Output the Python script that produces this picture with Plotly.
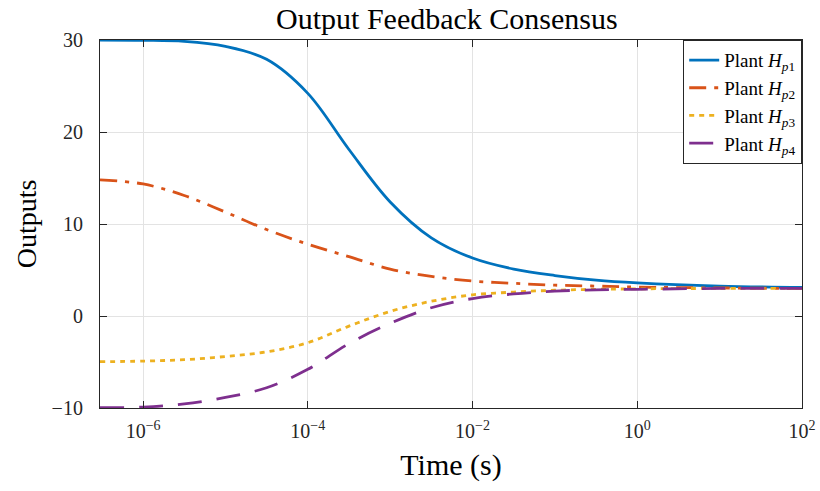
import plotly.graph_objects as go

# Sample times (s) on a log grid
time_s = [3e-7, 1e-6, 3.16e-6, 1e-5, 3.16e-5, 1e-4, 3.16e-4, 1e-3, 3.16e-3,
          1e-2, 3.16e-2, 1e-1, 3.16e-1, 1e0, 1e1, 1e2]

# Plant outputs
y_hp1 = [30.0, 29.97, 29.85, 29.3, 27.9, 24.2, 18.1, 12.4, 8.5, 6.3, 5.1, 4.4, 3.9, 3.6, 3.25, 3.1]
y_hp2 = [14.8, 14.35, 13.1, 11.3, 9.4, 7.8, 6.45, 5.1, 4.3, 3.8, 3.55, 3.35, 3.25, 3.15, 3.05, 3.0]
y_hp3 = [-4.97, -4.9, -4.75, -4.4, -3.9, -2.9, -1.1, 0.5, 1.6, 2.3, 2.6, 2.8, 2.9, 2.95, 3.0, 3.0]
y_hp4 = [-9.96, -9.9, -9.55, -8.85, -7.8, -5.8, -3.0, -0.8, 0.9, 1.9, 2.4, 2.7, 2.85, 2.9, 3.0, 3.0]

series_names = ["Plant <i>H</i><sub><i>p</i>1</sub>", "Plant <i>H</i><sub><i>p</i>2</sub>",
                "Plant <i>H</i><sub><i>p</i>3</sub>", "Plant <i>H</i><sub><i>p</i>4</sub>"]
colors = ["#0072BD", "#D95319", "#EDB120", "#7E2F8E"]
dashes = ["solid", "17px,8px,4px,8px", "5px,5px", "24px,15px"]

x_tickvals = [1e-6, 1e-4, 1e-2, 1e0, 1e2]
x_ticktext = ["10<sup>−6</sup>", "10<sup>−4</sup>", "10<sup>−2</sup>", "10<sup>0</sup>", "10<sup>2</sup>"]
y_tickvals = [-10, 0, 10, 20, 30]
y_ticktext = ["−10", "0", "10", "20", "30"]

font_family = "Liberation Serif"

fig = go.Figure()
for name, ys, c, d in zip(series_names, [y_hp1, y_hp2, y_hp3, y_hp4], colors, dashes):
    fig.add_trace(go.Scatter(x=time_s, y=ys, mode="lines", name=name,
                             line=dict(color=c, width=2.8, dash=d, shape="spline", smoothing=1.0)))

axis_common = dict(showline=True, linecolor="#262626", linewidth=1.2, mirror="ticks",
                   ticks="inside", ticklen=7, tickcolor="#262626", tickwidth=1.2,
                   showgrid=True, gridcolor="#e3e3e3", gridwidth=1, zeroline=False,
                   automargin=False,
                   tickfont=dict(family=font_family, size=20, color="#262626"))

fig.update_layout(
    width=820, height=491,
    margin=dict(l=100, r=18, t=40, b=83),
    paper_bgcolor="white", plot_bgcolor="white",
    title=dict(text="Output Feedback Consensus", x=0.545, xanchor="center", y=0.963, yanchor="middle",
               font=dict(family=font_family, size=30, color="#000000")),
    xaxis=dict(type="log", range=[-6.523, 2], tickvals=x_tickvals, ticktext=x_ticktext,
               ticklabelstandoff=5,
               title=dict(text="Time (s)", font=dict(family=font_family, size=30, color="#000000"), standoff=12),
               **axis_common),
    yaxis=dict(range=[-10, 30], tickvals=y_tickvals, ticktext=y_ticktext,
               ticklabelstandoff=12,
               title=dict(text="Outputs", font=dict(family=font_family, size=28, color="#000000"), standoff=6),
               **axis_common),
    legend=dict(x=1, y=1, xanchor="right", yanchor="top", bgcolor="white",
                bordercolor="#262626", borderwidth=1.2,
                font=dict(family=font_family, size=19, color="#000000"),
                tracegroupgap=0),
    showlegend=True,
)

fig.write_html("out.html")
